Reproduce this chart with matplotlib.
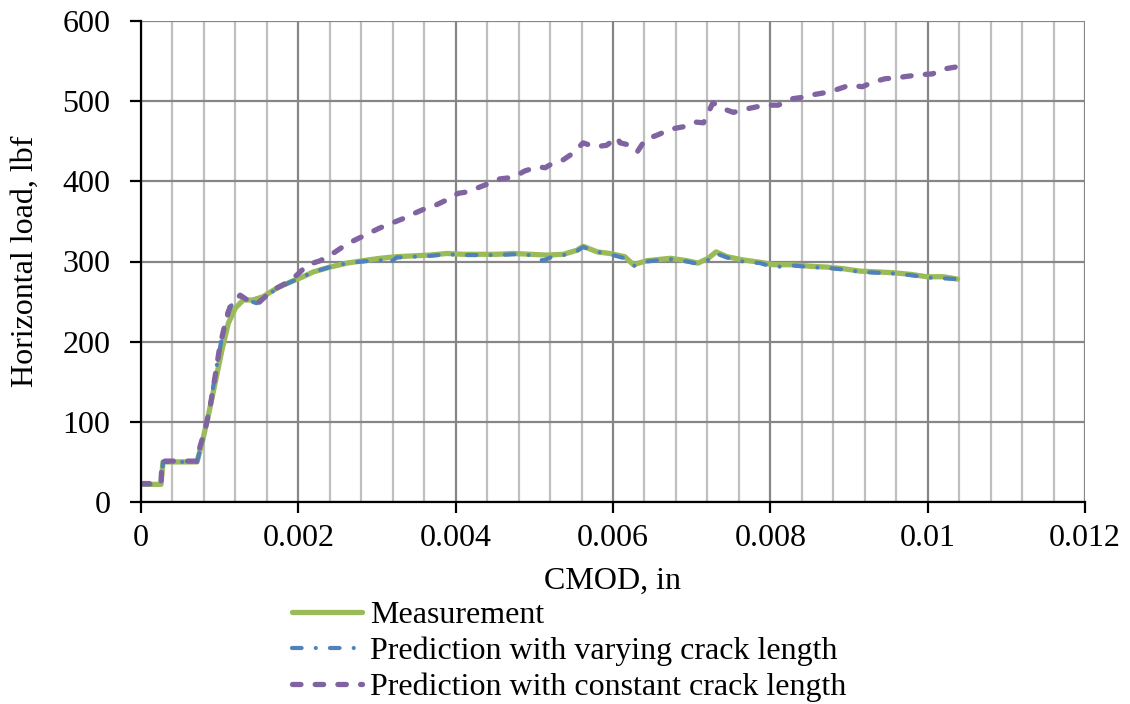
import matplotlib
matplotlib.use("Agg")
import matplotlib.pyplot as plt
from matplotlib.ticker import MultipleLocator

# measured CMOD (in) and horizontal load (lbf)
meas_x = [0, .000254, .00028, .000712, .000776, .000852, .000941, .00103, .00111, .0012,
          .0013, .00142, .00155, .00173, .00189, .00206, .00219, .0024, .00262, .00282,
          .00304, .00325, .00346, .00367, .00389, .00409, .00431, .00453, .00473, .00495,
          .00516, .00537, .00554, .00562, .0058, .00596, .00615, .00626, .00643, .00673,
          .00694, .00708, .00721, .00731, .00745, .00765, .00787, .00804, .00829, .00851,
          .00872, .00893, .00914, .00936, .00956, .00978, .00999, .0102, .01038]
meas_y = [22, 22, 50, 50, 74, 106, 148, 190, 223, 242,
          252, 252, 256, 267, 274, 281, 287, 293, 298, 301,
          304, 306, 307, 308, 310, 309, 309, 309, 310, 309,
          308, 309, 314, 319, 312, 310, 306, 296, 301, 304,
          301, 298, 304, 312, 306, 302, 299, 296, 296, 294,
          293, 291, 288, 287, 286, 284, 281, 281, 278]

# prediction with varying crack length
vary_x = [0, .000254, .00028, .000712, .00077, .000877, .00094, .00103, .0011, .00119,
          .00126, .00134, .00147, .0016, .00173, .00189, .00206, .00219, .0024, .00262,
          .00282, .00304, .00313, .00325, .00346, .00367, .00389, .00409, .00431, .00453,
          .00473, .00495, .00511, .00525, .00537, .00554, .00562, .0058, .00596, .00615,
          .00628, .00643, .00673, .00694, .00708, .00721, .00731, .00745, .00765, .00787,
          .00804, .00829, .00851, .00872, .00893, .00914, .00936, .00956, .00978, .00999,
          .0102, .01038]
vary_y = [22, 22, 50, 50, 72, 118, 158, 206, 237, 252,
          258, 252, 248, 258, 266, 274, 281, 287, 293, 298,
          300, 302, 296, 305, 306, 307, 309, 308, 308, 308,
          309, 308, 301, 307, 308, 313, 318, 312, 309, 304,
          294, 300, 303, 300, 297, 302, 310, 305, 300, 298,
          293, 295, 293, 292, 290, 287, 286, 285, 283, 280,
          279, 278]

# prediction with constant crack length
const_x = [0, .000254, .000267, .000712, .00075, .000814, .000877, .000941, .001, .00107,
           .00113, .00126, .00135, .00149, .0016, .00173, .00186, .00198, .00212, .00228,
           .00247, .00262, .00281, .00289, .00304, .00314, .00332, .00345, .00359, .00374,
           .00389, .00403, .00416, .00431, .00444, .00456, .00473, .00488, .00504, .00514,
           .00524, .00537, .00549, .00562, .00577, .00592, .00605, .00609, .00622, .00631,
           .00641, .00657, .00673, .00689, .00704, .00715, .00727, .00739, .00753, .00768,
           .00783, .00797, .0081, .00828, .00842, .00854, .00872, .00886, .00901, .00917,
           .00931, .00946, .00959, .00974, .0099, .01006, .0102, .01038]
const_y = [23, 23, 51, 51, 69, 90, 118, 156, 193, 223,
           243, 258, 252, 248, 258, 267, 274, 283, 296, 301,
           312, 322, 331, 335, 342, 346, 353, 359, 365, 370,
           377, 385, 387, 393, 398, 403, 405, 413, 418, 417,
           423, 427, 435, 448, 443, 445, 455, 448, 445, 437,
           452, 458, 465, 468, 474, 473, 498, 491, 486, 490,
           493, 495, 495, 503, 505, 508, 511, 515, 520, 518,
           524, 528, 529, 531, 533, 534, 540, 543]

labels = ["Measurement", "Prediction with varying crack length",
          "Prediction with constant crack length"]

plt.rcParams['font.family'] = ['Liberation Serif', 'DejaVu Serif']
plt.rcParams['font.size'] = 23

fig = plt.figure(figsize=(11.3, 7.04), dpi=100)
ax = fig.add_axes([141 / 1130, 1 - 502 / 704, (1085 - 141) / 1130, (502 - 21) / 704])

ax.plot(meas_x, meas_y, color="#9BBB59", lw=3.8, solid_capstyle="round",
        solid_joinstyle="round", label=labels[0], zorder=3)
ax.plot(vary_x, vary_y, color="#4F81BD", lw=3.0, dashes=(2.3, 3.4, 0.01, 3.4),
        dash_capstyle="round", label=labels[1], zorder=4)
ax.plot(const_x, const_y, color="#8064A2", lw=3.8, dashes=(1.6, 2.7),
        dash_capstyle="round", label=labels[2], zorder=5)

ax.set_xlim(0, 0.012)
ax.set_ylim(0, 600)
ax.xaxis.set_minor_locator(MultipleLocator(0.0004))
ax.yaxis.set_major_locator(MultipleLocator(100))
ax.set_xticks([0, 0.002, 0.004, 0.006, 0.008, 0.01, 0.012])
ax.set_xticklabels(["0", "0.002", "0.004", "0.006", "0.008", "0.01", "0.012"])

ax.grid(which="major", color="#868686", lw=1.6)
ax.grid(which="minor", axis="x", color="#bfbfbf", lw=1.6)
ax.set_axisbelow(True)
for s in ["top", "right"]:
    ax.spines[s].set_visible(False)
for s in ["left", "bottom"]:
    ax.spines[s].set_linewidth(1.6)
    ax.spines[s].set_zorder(6)
ax.tick_params(which="major", direction="out", length=8, width=1.6)
ax.tick_params(axis="x", pad=8)
ax.tick_params(axis="y", pad=14)
ax.tick_params(which="minor", length=0)

ax.set_xlabel("CMOD, in", labelpad=10)
ax.set_ylabel("Horizontal load, lbf", labelpad=16)

fig.legend(loc="upper left", bbox_to_anchor=(292 / 1130, 1 - 601 / 704),
           frameon=False, borderpad=0, borderaxespad=0, handlelength=2.2,
           handletextpad=0.25, labelspacing=0.2)

fig.savefig("out.png", dpi=100)
